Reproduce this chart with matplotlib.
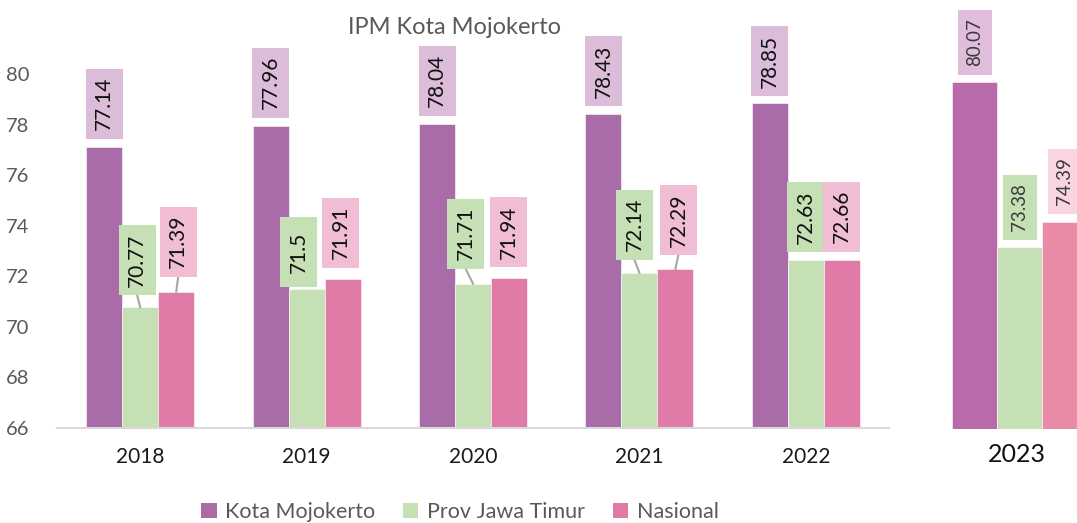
import matplotlib
matplotlib.use("Agg")
import matplotlib.pyplot as plt
from matplotlib.patches import Rectangle, Patch
from matplotlib.lines import Line2D
from matplotlib.transforms import IdentityTransform

plt.rcParams['font.family'] = ['Lato', 'DejaVu Sans']

# ---------------- data ----------------
years = ['2018', '2019', '2020', '2021', '2022']
kota = [77.14, 77.96, 78.04, 78.43, 78.85]
jatim = [70.77, 71.50, 71.71, 72.14, 72.63]
nasional = [71.39, 71.91, 71.94, 72.29, 72.66]
series_names = ['Kota Mojokerto', 'Prov Jawa Timur', 'Nasional']
year_last = '2023'
last_values = [80.07, 73.38, 74.39]
yticks = [66, 68, 70, 72, 74, 76, 78, 80]
title = 'IPM Kota Mojokerto'

# ---------------- style / layout ----------------
bar_colors = ['#a96ca8', '#c5e0b4', '#e07aa6']
box_colors = ['#dbbcd9', '#c5e0b4', '#f0bdd5']
bar_colors_last = ['#b86aab', '#c5e0b4', '#e98aa6']
box_colors_last = ['#e0bddb', '#c5e0b4', '#f8d5df']
# label box offsets in pixels (above bar top / horizontal shift)
lab_dy = [[43, 43, 43, 43, 42.4], [47, 37, 50, 48, 43], [50, 46, 46, 49, 43]]
lab_dx = [[0, 0, 0, 0, 0], [-3, -8, -7.5, -5, 0], [2, -2, 0, 3, 0]]
leader = [[False] * 5, [True, False, True, True, False], [True, False, False, True, False]]
lab_dy_last = [40, 40, 41]

W, H = 1077, 523
fig = plt.figure(figsize=(W / 100, H / 100), dpi=100)

ax = fig.add_axes([57 / W, (H - 427.8) / H, 832 / W, 16 * 25.25 / H])
bw = 0.2163
xs = list(range(len(years)))
all_series = [kota, jatim, nasional]
offsets = [-bw, 0, bw]
for s, vals in enumerate(all_series):
    ax.bar([x + offsets[s] for x in xs], [v - 66 for v in vals], bottom=66, width=bw,
           color=bar_colors[s], edgecolor='white', linewidth=0.4, label=series_names[s])
ax.set_xlim(-0.5, 4.5)
ax.set_ylim(66, 82)
ax.set_yticks(yticks)
ax.set_xticks(xs)
ax.set_xticklabels(years)
for sp in ['top', 'right', 'left']:
    ax.spines[sp].set_visible(False)
ax.spines['bottom'].set_color('#d9d9d9')
ax.spines['bottom'].set_linewidth(1.5)
ax.tick_params(axis='y', length=0, pad=20, labelsize=14.5, labelcolor='#595959')
ax.tick_params(axis='x', length=0, pad=14, labelsize=15, labelcolor='#1a1a1a')

ax2 = fig.add_axes([952 / W, (H - 429) / H, 135 / W, 16 * 24.66 / H])
ax2.bar([0, 1, 2], [v - 66 for v in last_values], bottom=66, width=1.0,
        color=bar_colors_last, edgecolor='white', linewidth=0.4)
ax2.set_xlim(-0.5, 2.5)
ax2.set_ylim(66, 82)
ax2.set_yticks([])
ax2.set_xticks([0.95])
ax2.set_xticklabels([year_last])
ax2.tick_params(axis='x', length=0, pad=10, labelsize=18, labelcolor='#111111')
for sp in ax2.spines.values():
    sp.set_visible(False)

ident = IdentityTransform()


def draw_label(axx, x, v, text, dx, dy, bwpx, bhpx, fc, fs, tc, lead):
    bx, by = axx.transData.transform((x, v))
    cx, cy = bx + dx, by + dy
    fig.patches.append(Rectangle((cx - bwpx / 2, cy - bhpx / 2), bwpx, bhpx,
                                 facecolor=fc, edgecolor='none', transform=ident,
                                 figure=fig, zorder=3))
    fig.text(cx, cy, text, transform=ident, rotation=90, ha='center', va='center',
             rotation_mode='anchor', fontsize=fs, color=tc, zorder=4)
    if lead:
        fig.lines.append(Line2D([cx, bx], [cy - bhpx / 2, by], color='#a6a6a6', lw=1.5,
                                transform=ident, figure=fig, zorder=2))


for s, vals in enumerate(all_series):
    for i, v in enumerate(vals):
        txt = ('%.2f' % v).rstrip('0').rstrip('.') if v * 100 % 10 == 0 else '%.2f' % v
        draw_label(ax, xs[i] + offsets[s], v, txt, lab_dx[s][i], lab_dy[s][i],
                   37, 70, box_colors[s], 15, '#111111', leader[s][i])

for s, v in enumerate(last_values):
    draw_label(ax2, s, v, '%.2f' % v, 0, lab_dy_last[s], 34, 65, box_colors_last[s],
               13.5, '#3a3a3a', False)

fig.text(455 / W, 1 - 27 / H, title, ha='center', va='center', fontsize=17, color='#595959')

handles = [Patch(facecolor=c, edgecolor='none') for c in bar_colors]
fig.legend(handles, series_names, loc='center', bbox_to_anchor=(460 / W, 1 - 512 / H),
           ncol=3, frameon=False, fontsize=15.5, labelcolor='#595959',
           handlelength=0.7, handleheight=0.7, handletextpad=0.4, columnspacing=1.3)

fig.savefig('out.png', dpi=100)
